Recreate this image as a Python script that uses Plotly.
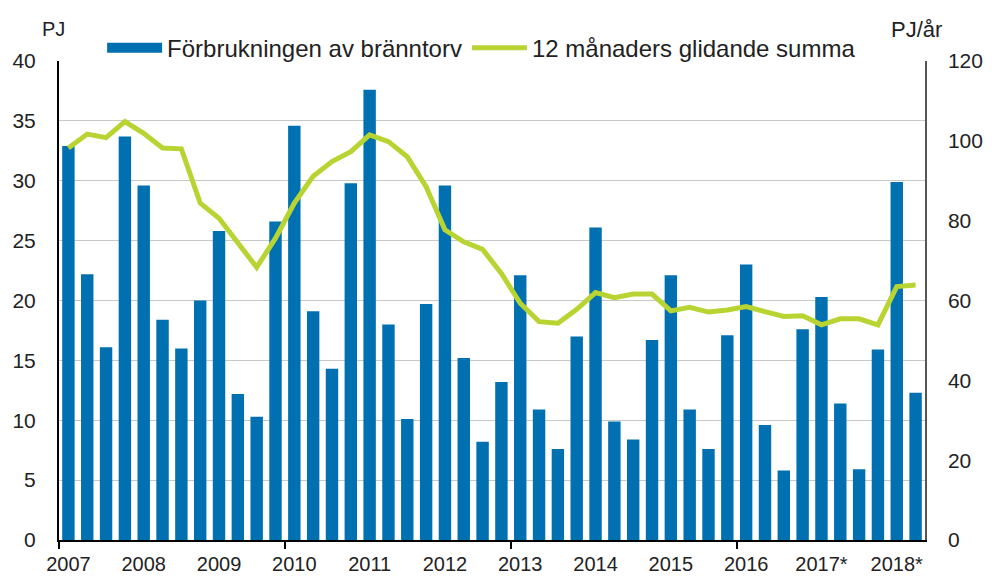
import plotly.graph_objs as go

# quarterly peat consumption, PJ (2007 Q1 .. 2018 Q2)
quarters = list(range(46))
forbrukning = [32.9, 22.2, 16.1, 33.7, 29.6, 18.4, 16.0, 20.0, 25.8, 12.2, 10.3, 26.6,
               34.6, 19.1, 14.3, 29.8, 37.6, 18.0, 10.1, 19.7, 29.6, 15.2, 8.2, 13.2,
               22.1, 10.9, 7.6, 17.0, 26.1, 9.9, 8.4, 16.7, 22.1, 10.9, 7.6, 17.1,
               23.0, 9.6, 5.8, 17.6, 20.3, 11.4, 5.9, 15.9, 29.9, 12.3]
# 12 month moving sum, PJ/år
glidande = [98.2, 101.7, 100.8, 104.8, 101.9, 98.2, 98.0, 84.4, 80.6, 74.4, 68.3, 75.6,
            84.4, 91.1, 94.8, 97.3, 101.5, 99.8, 96.0, 88.5, 77.7, 74.7, 72.8, 66.8,
            59.3, 54.7, 54.3, 57.8, 62.0, 60.7, 61.6, 61.6, 57.4, 58.3, 57.1, 57.6,
            58.5, 57.2, 56.0, 56.2, 53.9, 55.4, 55.4, 53.9, 63.5, 63.9]
year_pos = [0, 4, 8, 12, 16, 20, 24, 28, 32, 36, 40, 44]
year_labels = ['2007', '2008', '2009', '2010', '2011', '2012', '2013', '2014',
               '2015', '2016', '2017*', '2018*']

FONT = 'Liberation Sans, Arial, sans-serif'
BLUE = '#0070b0'
GREEN = '#b8d432'

# page has an 8px body margin, so the figure is a bit smaller than the window
W, H = 984, 569
L, R, T, B = 51, 67, 53, 37

fig = go.Figure()
fig.add_trace(go.Bar(x=quarters, y=forbrukning, name='Förbrukningen av bränntorv',
                     marker_color=BLUE, marker_line_width=0, showlegend=False))
# legend swatch drawn as a thick line so it looks like the wide block of the original
fig.add_trace(go.Scatter(x=[None], y=[None], name='Förbrukningen av bränntorv',
                         mode='lines', line=dict(color=BLUE, width=13)))
fig.add_trace(go.Scatter(x=quarters, y=glidande, name='12 månaders glidande summa',
                         yaxis='y2', mode='lines',
                         line=dict(color=GREEN, width=5)))

fig.update_layout(
    width=W, height=H,
    margin=dict(l=L, r=R, t=T, b=B, autoexpand=False),
    paper_bgcolor='white', plot_bgcolor='white',
    font=dict(family=FONT, size=20, color='#222222'),
    bargap=0.34,
    showlegend=True,
    legend=dict(orientation='h', x=0.488, xanchor='center', y=1.027, yanchor='middle',
                bgcolor='white', font=dict(size=24), itemwidth=55,
                tracegroupgap=0),
    xaxis=dict(range=[-0.5, 45.5], tickmode='array', tickvals=year_pos,
               ticktext=year_labels, ticks='', showgrid=False, zeroline=False,
               showline=True, linecolor='black', linewidth=2, automargin=False,
               ticklabelstandoff=5,
               minor=dict(tickmode='linear', tick0=-0.5, dtick=12, ticks='outside',
                          ticklen=7, tickwidth=2, tickcolor='black', showgrid=False)),
    yaxis=dict(range=[0, 40], dtick=5, showgrid=True, gridcolor='#c8c8c8', gridwidth=1,
               zeroline=False, showline=True, linecolor='black', linewidth=2,
               ticks='', ticklabelstandoff=17, automargin=False,
               tickfont=dict(size=21)),
    yaxis2=dict(range=[0, 120], dtick=20, overlaying='y', side='right', showgrid=False,
                zeroline=False, showline=True, linecolor='#555555', linewidth=1.5,
                ticks='', ticklabelstandoff=17, automargin=False,
                tickfont=dict(size=21)),
    annotations=[
        dict(text='PJ', x=53, y=29, xref='paper', yref='paper', showarrow=False,
             xanchor='center', yanchor='middle', font=dict(size=20)),
        dict(text='PJ/år', x=916, y=29, xref='paper', yref='paper', showarrow=False,
             xanchor='center', yanchor='middle', font=dict(size=22)),
    ],
)

# annotation positions given in window pixels, convert to paper coords
pw = W - L - R
ph = H - T - B
for a in fig.layout.annotations:
    px_x, px_y = a.x - 8, a.y - 8
    a.x = (px_x - L) / pw
    a.y = 1 + (T - px_y) / ph

fig.write_html("out.html")
